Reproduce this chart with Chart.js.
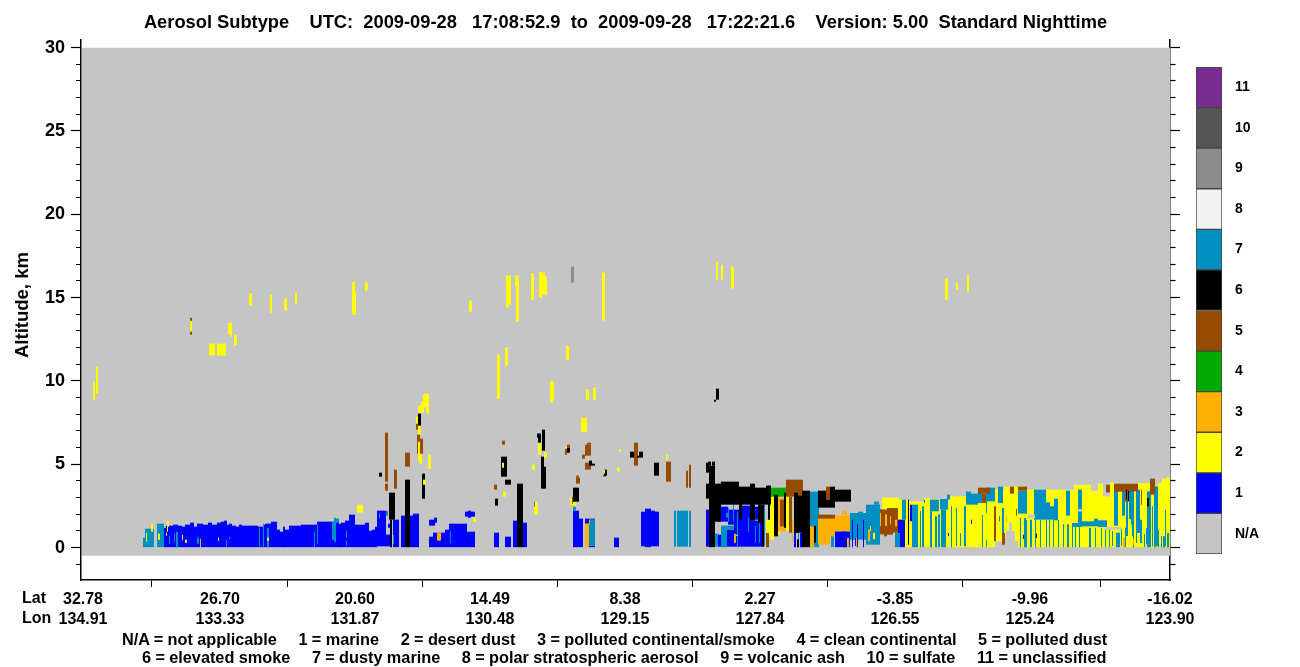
<!DOCTYPE html>
<html>
<head>
<meta charset="utf-8">
<title>Aerosol Subtype</title>
<script src="https://cdn.jsdelivr.net/npm/chart.js@4"></script>
<style>
    body { margin: 0; background: #fff; width: 1300px; height: 667px; position: relative; overflow: hidden; }
    canvas { position: absolute; display: block; }
    #curtain { left: 0; top: 0; }
    #legendBar { left: 1190px; top: 44px; }
    .note { position: absolute; font: bold 16px "Liberation Sans", Arial, sans-serif; color: #000; white-space: pre; line-height: 20px; }
    .key { font-size: 16.3px; word-spacing: -0.2px; }
    #altitudeTitle { font-size: 18.5px; left: 22px; top: 305px; transform: translate(-50%, -50%) rotate(-90deg); }
</style>
</head>
<body>
<canvas id="curtain" width="1300" height="667"></canvas>
<canvas id="legendBar" width="110" height="534"></canvas>
<div class="note" id="altitudeTitle">Altitude, km</div>
<div class="note" style="left:22px;top:588px">Lat</div>
<div class="note" style="left:22px;top:608px">Lon</div>
<div class="note key" style="left:122px;top:629px">N/A = not applicable     1 = marine     2 = desert dust     3 = polluted continental/smoke     4 = clean continental     5 = polluted dust</div>
<div class="note key" style="left:142px;top:647px">6 = elevated smoke     7 = dusty marine     8 = polar stratospheric aerosol     9 = volcanic ash     10 = sulfate     11 = unclassified</div>
<script>
// Axis values
const titleText = 'Aerosol Subtype    UTC:  2009-09-28   17:08:52.9  to  2009-09-28   17:22:21.6    Version: 5.00  Standard Nighttime';
const trackTicks = [2, 139, 274, 409, 544, 679, 814, 949, 1089];
const latLabels = ['32.78', '26.70', '20.60', '14.49', '8.38', '2.27', '-3.85', '-9.96', '-16.02'];
const lonLabels = ['134.91', '133.33', '131.87', '130.48', '129.15', '127.84', '126.55', '125.24', '123.90'];
const altitudeTicks = [-1, 0, 1, 2, 3, 4, 5, 6, 7, 8, 9, 10, 11, 12, 13, 14, 15, 16, 17, 18, 19, 20, 21, 22, 23, 24, 25, 26, 27, 28, 29, 30];
const legendLabels = ['N/A', '1', '2', '3', '4', '5', '6', '7', '8', '9', '10', '11'];
const legendColors = ['#c5c5c5', '#0000ff', '#ffff00', '#ffb000', '#00aa00', '#964b00', '#000000', '#008fc0', '#f2f2f2', '#8c8c8c', '#555555', '#7a2c92'];

// Each entry: [first profile, last profile, low km, high km]
const notApplicable = [[1, 1089, -0.48, 30]];
const notApplicableOver = [
    [947, 954, 1.78, 1.98], [997, 1001, 2.18, 2.32], [1024, 1040, 1.08, 1.24], [1026, 1029, 3.08, 3.3]
];
const desertDust = [
    [12, 14, 8.84, 9.96], [15, 17, 9.24, 10.86], [109, 111, 13, 13.62], [128, 134, 11.52, 12.24], [136, 145, 11.52, 12.24],
    [147, 151, 12.78, 13.5], [149, 151, 12.66, 12.78], [153, 156, 12.12, 12.78], [168, 171, 14.52, 15.24], [189, 191, 14.1, 15.18],
    [203, 206, 14.22, 14.94], [214, 216, 14.64, 15.3], [271, 274, 15.36, 15.96], [271, 275, 13.98, 15.36], [284, 287, 15.42, 15.9],
    [388, 391, 14.16, 14.82], [425, 428, 14.4, 16.32], [428, 430, 14.58, 16.32], [434, 438, 15.72, 16.32], [435, 438, 13.56, 15.72],
    [450, 453, 14.88, 16.44], [458, 461, 15, 16.56], [461, 464, 15.18, 16.5], [464, 466, 15.18, 16.26], [521, 524, 13.62, 16.5],
    [635, 637, 16.08, 17.16], [640, 642, 16.08, 16.98], [650, 653, 15.54, 16.86], [864, 867, 14.88, 16.14], [875, 877, 15.48, 15.9],
    [886, 888, 15.36, 16.38], [416, 419, 8.94, 11.58], [424, 427, 10.92, 12], [485, 488, 11.28, 12.12], [469, 472, 8.7, 10.02],
    [472, 473, 8.88, 9.9], [505, 508, 8.88, 9.48], [512, 515, 8.88, 9.6],
    [342, 348, 8.76, 9.24], [340, 348, 8.4, 8.76], [345, 348, 8.04, 8.4], [337, 343, 8.1, 8.52], [335, 337, 7.44, 7.86],
    [337, 340, 6.78, 7.32], [338, 341, 5.04, 5.64], [347, 350, 4.74, 5.58], [392, 395, 1.56, 1.86], [276, 282, 2.1, 2.58],
    [451, 454, 4.68, 4.98], [457, 460, 5.58, 6.3], [463, 466, 5.4, 5.7], [500, 506, 6.96, 7.8], [453, 457, 1.98, 2.76],
    [536, 539, 4.56, 4.8], [538, 540, 5.76, 5.92], [422, 425, 3.06, 3.36], [489, 492, 2.58, 3], [492, 495, 2.46, 2.76],
    [585, 587, 5.28, 5.58], [484, 486, 5.94, 6.06],
    [685, 689, 0.68, 1.68], [689, 693, 0.48, 3.06], [697, 699, 0.78, 2.88], [703, 705, 2.2, 3.06], [705, 708, 1.02, 3.06],
    [801, 818, 2.28, 3],
    [817, 827, 0, 2.88], [827, 837, 0, 2.78], [837, 843, 0, 2.76], [843, 849, 0, 2.98], [849, 867, 0, 2.9], [867, 885, 0, 3.08],
    [885, 901, 0, 3.1], [901, 914, 0, 3.36], [914, 923, 0.38, 3.5], [923, 925, 0.6, 3.66], [925, 928, 1, 3.66], [928, 931, 1.5, 3.66],
    [931, 934, 1, 3.66], [934, 937, 0.4, 3.66], [937, 946, 0, 3.66], [946, 993, 0, 3.48], [993, 1010, 0, 3.78], [1010, 1017, 0, 3.42],
    [1017, 1022, 0, 3.84], [1022, 1029, 0, 3.08], [1029, 1033, 0, 3.9], [1033, 1057, 0, 3.84], [1057, 1069, 0, 3.88],
    [1069, 1077, 0, 3.78], [1077, 1081, 0, 3.88], [1081, 1085, 0, 4.14], [1085, 1089, 0, 4.2]
];
const marine = [
    [83, 85, 0, 1.2], [85, 92, 0, 1.32], [92, 97, 0, 1.38], [97, 101, 0, 1.32], [101, 104, 0, 1.26], [104, 109, 0, 1.38],
    [109, 113, 0, 1.5], [113, 116, 0, 1.26], [116, 122, 0, 1.44], [122, 127, 0, 1.38], [127, 131, 0, 1.5], [131, 136, 0, 1.38],
    [136, 140, 0, 1.5], [140, 143, 0, 1.56], [143, 146, 0, 1.62], [146, 148, 0, 1.38], [148, 151, 0, 1.44], [151, 155, 0, 1.32],
    [155, 158, 0, 1.26], [158, 161, 0, 1.38], [161, 177, 0, 1.32], [177, 182, 0, 1.26], [182, 184, 0, 1.38], [184, 190, 0, 1.44],
    [190, 196, 0, 1.56], [196, 199, 0, 1.08], [199, 202, 0, 0.96], [202, 204, 0, 1.26], [204, 208, 0, 1.08], [208, 220, 0, 1.32],
    [220, 236, 0, 1.38], [236, 253, 0, 1.56], [253, 258, 0, 1.56], [258, 260, 0, 1.44], [260, 264, 0, 1.5], [264, 268, 0, 1.62],
    [268, 274, 0, 1.98], [274, 284, 0, 1.38], [284, 288, 0, 1.5], [288, 291, 0, 1.02], [291, 294, 0, 1.08], [294, 296, 0, 1.26],
    [296, 305, 0.08, 2.22], [305, 309, 0.08, 0.78], [307, 309, 1.2, 1.44], [312, 318, 0, 1.68], [320, 324, 0, 1.92], [329, 332, 0, 1.92],
    [332, 338, 0, 2.04], [348, 354, 1.32, 1.68], [353, 356, 1.5, 1.8], [348, 352, 0, 0.66], [352, 356, 0, 0.9], [356, 364, 0, 0.9],
    [364, 368, 0, 1.08], [368, 386, 0, 1.44], [386, 394, 0, 0.96], [384, 394, 1.86, 2.16], [387, 390, 1.8, 2.22], [413, 418, 0, 0.9],
    [424, 430, 0, 0.66], [432, 436, 0, 1.62], [440, 446, 0, 1.5], [492, 498, 0, 2.22], [498, 502, 0, 1.74], [504, 508, 1.44, 1.74],
    [508, 514, 0, 0.12], [508, 514, 1.68, 1.74], [533, 538, 0, 0.6], [560, 564, 0.08, 2.16], [564, 570, 0, 2.34], [570, 574, 0.08, 2.22],
    [574, 578, 0.08, 2.16], [625, 628, 0.06, 2.28],
    [637, 640, 1.56, 2.58], [640, 647, 1.56, 2.46], [647, 658, 1.38, 2.28], [637, 640, 0.06, 0.78], [645, 653, 0.06, 1.08],
    [653, 660, 0.06, 2.1], [660, 669, 0.06, 2.52], [669, 679, 0.06, 1.62], [673, 679, 1.68, 2.46], [679, 683, 0.06, 2.46],
    [713, 715, 0, 0.88], [719, 721, 0, 0.9], [754, 769, 0, 0.98], [762, 765, 0, 1.3],
    [817, 824, 0, 1.68], [829, 831, 1.58, 2.58], [890, 891, 1.44, 1.68], [867, 868, 0.68, 0.88], [942, 943, 0.54, 0.78], [944, 945, 0.68, 0.88]
];
const dustyMarine = [
    [62, 64, 0, 0.6], [64, 73, 0, 1.14], [76, 83, 0, 1.44], [88, 89, 0.24, 0.72], [93, 94, 0.36, 0.84], [95, 97, 0, 0.96],
    [116, 118, 0.24, 0.6], [145, 146, 0, 0.48], [178, 179, 0, 1.14], [182, 183, 0, 1.44], [186, 188, 0, 1.2], [233, 234, 0, 0.96],
    [236, 237, 0.24, 1.38], [251, 253, 0.48, 1.56], [253, 255, 0.36, 1.8], [255, 258, 1.5, 1.74], [265, 266, 0.12, 0.42],
    [265, 266, 0.6, 1.02], [298, 299, 1.8, 2.1], [305, 307, 1.92, 2.22], [312, 313, 0.24, 0.78], [369, 370, 0.3, 0.96],
    [453, 454, 2.46, 2.76], [492, 495, 2.22, 2.46], [492, 495, 2.76, 2.88], [508, 514, 0.12, 1.68], [593, 595, 0.06, 2.22],
    [596, 607, 0.06, 2.22], [608, 610, 0.06, 2.22], [633, 637, 0.06, 0.84], [640, 646, 0, 1.32], [646, 653, 1.08, 1.32],
    [652, 653, 1.56, 2.82], [647, 648, 1.56, 2.4], [656, 657, 0, 2.1], [667, 668, 0.96, 1.8], [674, 675, 0.3, 1.32],
    [678, 679, 0.3, 1.5], [682, 683, 0.08, 2.58], [683, 684, 0.1, 2.7], [638, 640, 1.9, 2.4], [645, 648, 1.8, 2.1],
    [717, 718, 0, 2.7], [729, 738, 0, 3.36], [750, 753, 0, 0.78], [769, 785, 0.48, 2.08], [777, 782, 2.08, 2.16], [785, 799, 0.18, 2.58],
    [793, 798, 2.58, 2.76], [814, 819, 0, 0.88], [821, 825, 1.68, 2.88], [831, 837, 0, 2.58], [839, 840, 0, 2.2], [841, 843, 0, 2.48], [843, 844, 2.68, 2.88],
    [849, 851, 0, 2.18], [849, 858, 2.18, 2.88], [854, 856, 0, 1.88], [857, 859, 0, 2], [860, 865, 0, 2.28], [859, 867, 2.28, 2.92],
    [866, 869, 2.88, 3.18], [870, 871, 0, 2.48], [875, 876, 0.1, 2.38], [879, 880, 0.1, 0.88], [883, 885, 0.08, 2.48], [885, 890, 2.58, 3.36],
    [890, 897, 2.58, 3.24], [897, 901, 2.68, 3.54], [901, 902, 0, 1.98], [905, 906, 0, 0.48], [905, 906, 2.08, 2.78], [905, 914, 2.78, 3.6],
    [917, 922, 2.68, 3.66], [918, 919, 1.58, 1.88], [921, 923, 0.78, 2.38], [939, 940, 0, 1.78], [943, 945, 0, 1.78], [937, 946, 2.04, 3.42],
    [945, 946, 0, 1.68], [949, 951, 0, 1.68], [954, 955, 0, 1.68], [959, 960, 0, 1.68], [965, 966, 0, 1.68], [968, 969, 0, 1.68],
    [972, 973, 0, 1.68], [977, 978, 0, 1.68], [982, 983, 0, 1.4], [986, 988, 0, 1.4], [991, 992, 0, 1.4], [994, 995, 0, 1.4],
    [998, 999, 0, 1.3], [1008, 1010, 0, 1.2], [1014, 1015, 0, 1.2], [1020, 1021, 0, 1.2], [1024, 1025, 0, 1.2], [1028, 1029, 0, 1.1],
    [1031, 1032, 0.1, 1], [1035, 1039, 0, 0.9], [1040, 1041, 0.1, 1.1], [1044, 1045, 0, 1.2], [1052, 1053, 0, 1], [1063, 1064, 0, 0.8],
    [953, 965, 1.68, 3.48], [965, 969, 1.68, 2.72], [969, 973, 1.68, 2.48], [973, 977, 1.64, 2.94], [985, 989, 1.92, 3.42],
    [997, 1001, 2.32, 3.48], [997, 1001, 1.38, 2.18], [991, 1001, 1.24, 1.48], [1001, 1013, 1.28, 1.58], [1013, 1017, 1.28, 1.74],
    [1017, 1026, 1.24, 1.64], [1033, 1037, 1.32, 3.42], [1041, 1044, 1.92, 3.42], [1045, 1047, 0.7, 3.78], [1048, 1050, 1.7, 3.5], [1050, 1052, 1.38, 3.5],
    [1051, 1053, 0.7, 3.48], [1055, 1056, 0.28, 3.6], [1056, 1059, 0.88, 3.48], [1059, 1061, 0.28, 1.68], [1065, 1066, 0.2, 1.2], [1066, 1070, 0, 3.38],
    [1071, 1072, 0.08, 2.48], [1073, 1075, 0, 3.68], [1075, 1077, 0.08, 3.68], [1077, 1078, 0, 1.08], [1080, 1081, 0, 0.68], [1082, 1084, 0, 0.68], [1084, 1085, 0.08, 2.28], [1086, 1088, 0, 0.88]
];
const marineOver = [
    [325, 328, 0.6, 0.96], [771, 772, 0, 1.68], [776, 777, 0, 1.4], [782, 783, 0, 1.68], [774, 775, 0.1, 0.6]
];
const pollutedContinental = [
    [119, 120, 0, 0.54], [148, 149, 0.54, 0.6], [356, 360, 0.42, 0.9], [504, 508, 0, 1.44], [508, 509, 1.38, 1.68], [653, 655, 0.3, 0.84],
    [697, 705, 0.98, 2.98], [711, 712, 0.36, 1.68], [724, 725, 0.38, 1.68], [729, 733, 0, 1.28], [737, 749, 0.18, 1.74], [749, 754, 0.68, 1.74],
    [754, 769, 0.98, 1.92], [761, 766, 1.92, 2.22], [766, 768, 0, 0.58], [775, 776, 0, 0.6], [787, 789, 0.38, 1.08], [925, 926, 1.48, 1.88],
    [1042, 1044, 0, 0.58], [1052, 1053, 0.18, 0.54]
];
const cleanContinental = [[689, 705, 3.06, 3.6]];
const pollutedDust = [
    [109, 111, 13.62, 13.8], [109, 111, 12.78, 12.96], [304, 307, 3.96, 6.9], [304, 307, 3.42, 3.84], [313, 316, 3.54, 4.68],
    [324, 329, 4.86, 5.7], [335, 337, 7.08, 7.44], [336, 339, 5.64, 6.78], [339, 342, 5.64, 6.54], [413, 416, 3.48, 3.78],
    [421, 424, 6.18, 6.42], [486, 489, 6, 6.18], [484, 486, 5.58, 5.94], [501, 504, 5.34, 5.58], [504, 510, 5.52, 6.18], [506, 510, 6.18, 6.3],
    [504, 510, 4.68, 5.1], [522, 525, 4.26, 4.38], [495, 499, 3.84, 4.2], [495, 498, 4.2, 4.32], [491, 492, 2.64, 3.06], [553, 557, 4.92, 6.3],
    [585, 590, 3.96, 5.16], [605, 607, 3.6, 4.62], [608, 610, 3.6, 4.98],
    [685, 688, 0, 0.88], [699, 703, 1.28, 2.88], [703, 705, 1.8, 2.2], [708, 711, 0.9, 3.06], [705, 722, 3.06, 4.08], [737, 754, 1.74, 1.98],
    [745, 749, 2.88, 3.66], [799, 803, 0.8, 2.3], [803, 806, 0.68, 2.28], [806, 812, 0.78, 2.38], [812, 817, 0.9, 2.38],
    [897, 909, 3.24, 3.6], [901, 905, 2.68, 3.24], [913, 915, 0.38, 2.48], [921, 924, 0.18, 0.88], [935, 936, 1.92, 2.32],
    [929, 933, 3.24, 3.66], [937, 946, 3.42, 3.66], [944, 946, 3.48, 3.66], [1025, 1029, 3.3, 3.78], [1033, 1043, 3.36, 3.84],
    [1044, 1048, 2.76, 3.48], [1043, 1057, 3.38, 3.84], [1060, 1061, 2.58, 3.48], [1069, 1074, 3.18, 4.14]
];
const pollutedContinentalOver = [
    [799, 800, 1.28, 2.08], [804, 806, 1.3, 2], [809, 810, 1.4, 1.9], [814, 816, 1.28, 1.68]
];
const elevatedSmoke = [
    [298, 301, 4.26, 4.5], [308, 314, 1.68, 3.3], [309, 311, 0, 1.68], [324, 329, 0, 4.08], [341, 344, 2.94, 4.44], [337, 340, 7.32, 8.04],
    [414, 417, 2.52, 2.94], [424, 430, 3.78, 4.08], [420, 426, 4.26, 5.46], [436, 442, 0, 3.84], [456, 459, 6.6, 6.84], [457, 460, 6.3, 6.84],
    [461, 464, 5.82, 7.08], [460, 463, 3.54, 5.46], [462, 465, 3.54, 4.86], [486, 489, 5.7, 6], [492, 498, 2.76, 3.6], [508, 511, 4.92, 5.22],
    [511, 514, 4.92, 5.04], [523, 526, 4.32, 4.68], [549, 553, 5.4, 5.76], [558, 562, 5.4, 5.76], [556, 558, 5.4, 5.52], [573, 578, 4.32, 5.1],
    [635, 638, 8.88, 9.54], [633, 635, 8.76, 8.88],
    [628, 634, 0, 4.92], [625, 628, 4.5, 5.1], [627, 630, 4.92, 5.16], [631, 634, 4.92, 5.16], [625, 628, 2.94, 3.84], [634, 640, 1.56, 3.84],
    [640, 658, 2.58, 3.96], [658, 669, 2.58, 3.66], [669, 674, 1.62, 3.84], [674, 685, 2.58, 3.6], [658, 661, 1.68, 3], [677, 681, 1.48, 2.6],
    [681, 683, 0.06, 2.58], [685, 690, 2.58, 3.72], [687, 689, 1.68, 3.72], [693, 697, 0.68, 3.18], [703, 705, 1.2, 3.3], [713, 717, 0.88, 3.3],
    [717, 721, 0.9, 3.12], [721, 729, 0, 3.42], [716, 718, 0, 0.5], [737, 745, 2.4, 3.42], [745, 749, 2.4, 2.88], [749, 754, 2.4, 3.66],
    [754, 770, 2.76, 3.48], [733, 735, 0.3, 1.3], [827, 828, 0.18, 2.88], [1045, 1046, 2.9, 3.5], [1047, 1048, 2.8, 3.4], [1066, 1068, 2.48, 2.98],
    [955, 956, 0.58, 0.84]
];
const volcanicAsh = [[490, 493, 15.9, 16.86]];
const desertDustOver = [
    [104, 106, 0.3, 0.48], [101, 102, 0.48, 0.78], [137, 138, 0.42, 0.6], [186, 188, 0.42, 0.6], [65, 66, 0.36, 0.9], [70, 72, 0.96, 1.44],
    [77, 79, 0.48, 0.84], [86, 88, 1.26, 1.62], [86, 87, 0.96, 1.26], [85, 86, 0.72, 0.9], [342, 345, 3.78, 4.08], [337, 339, 5.22, 6.36],
    [421, 423, 4.8, 5.1], [523, 524, 4.44, 4.68], [655, 657, 0.72, 0.78], [789, 790, 1, 1.3], [792, 794, 0.5, 0.9]
];

// Draw order, bottom layer first
const layers = [
    [notApplicable, legendColors[0]],
    [desertDust, legendColors[2]],
    [marine, legendColors[1]],
    [dustyMarine, legendColors[7]],
    [marineOver, legendColors[1]],
    [pollutedContinental, legendColors[3]],
    [cleanContinental, legendColors[4]],
    [pollutedDust, legendColors[5]],
    [pollutedContinentalOver, legendColors[3]],
    [elevatedSmoke, legendColors[6]],
    [volcanicAsh, legendColors[9]],
    [desertDustOver, legendColors[2]],
    [notApplicableOver, legendColors[0]]
];

const labelFont = { family: '"Liberation Sans", Arial, sans-serif', weight: 'bold' };

// One bar dataset for every colour and column width in a layer
function buildDatasets() {
    const datasets = [];
    layers.forEach(([rows, color], layerIndex) => {
        const byWidth = new Map();
        rows.forEach(([start, end, low, high]) => {
            const width = end - start;
            if (!byWidth.has(width)) byWidth.set(width, []);
            byWidth.get(width).push({ x: (start + end) / 2, y: [low, high] });
        });
        byWidth.forEach((data, width) => {
            datasets.push({
                data,
                backgroundColor: color,
                barThickness: width,
                grouped: false,
                inflateAmount: 0,
                order: layers.length - layerIndex
            });
        });
    });
    return datasets;
}

function altitudeTickValues(scale) {
    scale.ticks = altitudeTicks.map(value => ({ value }));
}

new Chart(document.getElementById('curtain'), {
    type: 'bar',
    data: { datasets: buildDatasets() },
    options: {
        responsive: false,
        animation: false,
        layout: { padding: 0 },
        plugins: {
            legend: { display: false },
            tooltip: { enabled: false },
            title: {
                display: true,
                text: titleText,
                fullSize: false,
                color: '#000',
                font: { ...labelFont, size: 18.3, lineHeight: 1.2 },
                padding: { top: 12, bottom: 6 }
            }
        },
        scales: {
            x: {
                type: 'linear',
                min: 0,
                max: 1089,
                offset: false,
                afterBuildTicks: scale => { scale.ticks = trackTicks.map(value => ({ value })); },
                afterFit: scale => { scale.height = 87; },
                border: { color: '#000', width: 1.5 },
                grid: { drawOnChartArea: false, tickLength: 7, tickColor: '#000', tickWidth: 1 },
                ticks: {
                    autoSkip: false,
                    maxRotation: 0,
                    padding: 3,
                    color: '#000',
                    font: { ...labelFont, size: 16, lineHeight: 1.25 },
                    callback: (value, index) => [latLabels[index], lonLabels[index]]
                }
            },
            y: {
                position: 'left',
                min: -1.94,
                max: 30.46,
                afterBuildTicks: altitudeTickValues,
                afterFit: scale => { scale.width = 81; },
                border: { color: '#000', width: 1.5 },
                grid: {
                    drawOnChartArea: false,
                    tickLength: 10,
                    tickColor: '#000',
                    tickWidth: 1.2,
                    tickBorderDash: ctx => ctx.tick.value % 5 === 0 ? [] : [0, 5, 5, 0]
                },
                ticks: {
                    autoSkip: false,
                    padding: 6,
                    color: '#000',
                    font: { ...labelFont, size: 18 },
                    callback: value => value % 5 === 0 ? value : ''
                }
            },
            yRight: {
                position: 'right',
                min: -1.94,
                max: 30.46,
                afterBuildTicks: altitudeTickValues,
                afterFit: scale => { scale.width = 130; },
                border: { color: '#000', width: 1.5 },
                grid: {
                    drawOnChartArea: false,
                    tickLength: 10,
                    tickColor: '#000',
                    tickWidth: 1.2,
                    tickBorderDash: ctx => ctx.tick.value % 5 === 0 ? [] : [5, 100]
                },
                ticks: { display: false }
            }
        }
    }
});

// Colour key on the right
new Chart(document.getElementById('legendBar'), {
    type: 'bar',
    data: {
        labels: ['subtype'],
        datasets: legendLabels.map((label, i) => ({
            label,
            data: [1],
            backgroundColor: legendColors[i],
            borderColor: '#444',
            borderWidth: 1,
            borderSkipped: false,
            barPercentage: 1,
            categoryPercentage: 1
        }))
    },
    options: {
        responsive: false,
        animation: false,
        layout: { autoPadding: false, padding: { left: 6, right: 0, top: 23, bottom: 24 } },
        plugins: { legend: { display: false }, tooltip: { enabled: false } },
        scales: {
            x: { stacked: true, display: false },
            y: {
                stacked: true,
                position: 'right',
                min: 0,
                max: 12,
                afterBuildTicks: scale => { scale.ticks = legendLabels.map((label, i) => ({ value: i + 0.5 })); },
                afterFit: scale => { scale.width = 78; },
                border: { display: false },
                grid: { display: false },
                ticks: {
                    autoSkip: false,
                    padding: 5,
                    color: '#000',
                    font: { ...labelFont, size: 14 },
                    callback: (value, index) => legendLabels[index]
                }
            }
        }
    }
});
</script>
</body>
</html>
